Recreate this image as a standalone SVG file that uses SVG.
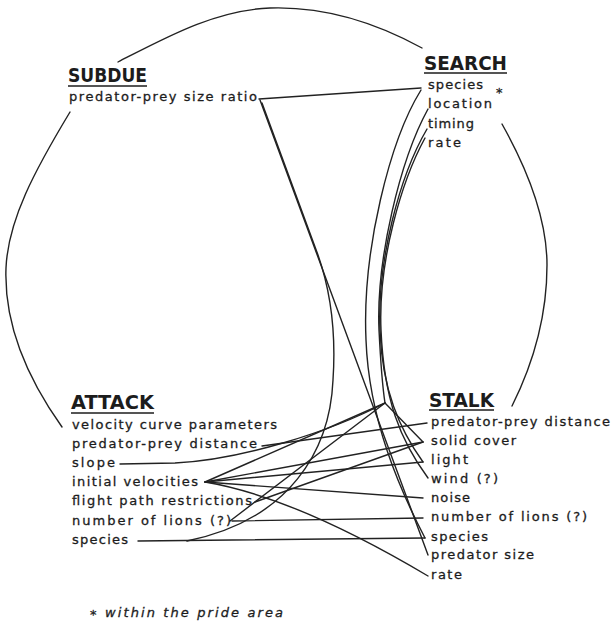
<svg xmlns="http://www.w3.org/2000/svg" width="611" height="622" viewBox="0 0 611 622">
<style>
.h{font-family:"DejaVu Sans","Liberation Sans",sans-serif;font-weight:bold;font-size:19px;fill:#1c1c1c}
.t{font-family:"DejaVu Sans","Liberation Sans",sans-serif;font-size:13px;fill:#1c1c1c;stroke:#1c1c1c;stroke-width:0.3}
.f{font-family:"DejaVu Sans","Liberation Sans",sans-serif;font-size:13px;font-style:italic;fill:#1c1c1c;stroke:#1c1c1c;stroke-width:0.3}
.u{stroke:#1c1c1c;stroke-width:1.6}
.c path{fill:none;stroke:#222;stroke-width:1.4;stroke-linecap:round;stroke-linejoin:round}
</style>
<rect width="611" height="622" fill="#fff"/>
<g id="connectors" class="c">
<path d="M118,62 C165,38 215,10 270,8 C330,6 380,25 422,48"/>
<path d="M70,112 C35,170 8,220 6,268 C4,320 25,375 62,427"/>
<path d="M502,124 C525,165 547,215 547,265 C547,315 535,360 512,406"/>
<path d="M259,99 L421,88"/>
<path d="M260,100 L428,555"/>
<path d="M262,103 L318,255 C331,292 336,335 333,380 C330,450 290,520 187,541"/>
<path d="M138,541 L425,538"/>
<path d="M232,521 L423,518"/>
<path d="M230,521 L385,403"/>
<path d="M262,446 L427,423"/>
<path d="M120,464 L175,463 C240,460 330,432 385,403"/>
<path d="M205,482 L385,403"/>
<path d="M205,482 L423,442"/>
<path d="M205,482 L423,462"/>
<path d="M205,482 L423,498"/>
<path d="M205,482 Q295,497 428,576"/>
<path d="M255,502 L423,442"/>
<path d="M385,403 L423,442"/>
<path d="M421,90 C390,140 362,250 366,340 C369,420 400,490 425,538"/>
<path d="M428,109 C400,160 376,260 379,330 C381,370 383,390 385,403"/>
<path d="M427,129 C400,175 377,260 380,330 C382,390 400,430 423,462"/>
<path d="M425,138 C402,180 378,260 381,330 C384,400 400,440 428,478"/>
</g>
<g id="subdue">
<text class="h" x="68" y="82" textLength="79" lengthAdjust="spacingAndGlyphs">SUBDUE</text>
<line class="u" x1="68" y1="86" x2="147" y2="86"/>
<text class="t" x="69" y="101" textLength="188" lengthAdjust="spacing">predator-prey size ratio</text>
</g>
<g id="search">
<text class="h" x="424" y="70" textLength="83" lengthAdjust="spacingAndGlyphs">SEARCH</text>
<line class="u" x1="424" y1="73" x2="507" y2="73"/>
<text class="t" x="428" y="89" textLength="55" lengthAdjust="spacing">species</text>
<text class="t" x="496" y="97" font-size="12">*</text>
<text class="t" x="428" y="108" textLength="64" lengthAdjust="spacing">location</text>
<text class="t" x="428" y="128" textLength="46" lengthAdjust="spacing">timing</text>
<text class="t" x="428" y="147" textLength="33" lengthAdjust="spacing">rate</text>
</g>
<g id="attack">
<text class="h" x="71" y="409" textLength="83" lengthAdjust="spacingAndGlyphs">ATTACK</text>
<line class="u" x1="71" y1="413" x2="154" y2="413"/>
<text class="t" x="72" y="429" textLength="205" lengthAdjust="spacing">velocity curve parameters</text>
<text class="t" x="72" y="448" textLength="185" lengthAdjust="spacing">predator-prey distance</text>
<text class="t" x="72" y="467" textLength="43" lengthAdjust="spacing">slope</text>
<text class="t" x="72" y="486" textLength="126" lengthAdjust="spacing">initial velocities</text>
<text class="t" x="72" y="505" textLength="180" lengthAdjust="spacing">flight path restrictions</text>
<text class="t" x="72" y="525" textLength="159" lengthAdjust="spacing">number of lions (?)</text>
<text class="t" x="72" y="544" textLength="56" lengthAdjust="spacing">species</text>
</g>
<g id="stalk">
<text class="h" x="429" y="407" textLength="65" lengthAdjust="spacingAndGlyphs">STALK</text>
<line class="u" x1="429" y1="410" x2="494" y2="410"/>
<text class="t" x="431" y="426" textLength="179" lengthAdjust="spacing">predator-prey distance</text>
<text class="t" x="431" y="445" textLength="85" lengthAdjust="spacing">solid cover</text>
<text class="t" x="431" y="464" textLength="37" lengthAdjust="spacing">light</text>
<text class="t" x="431" y="483" textLength="67" lengthAdjust="spacing">wind (?)</text>
<text class="t" x="431" y="502" textLength="39" lengthAdjust="spacing">noise</text>
<text class="t" x="431" y="521" textLength="156" lengthAdjust="spacing">number of lions (?)</text>
<text class="t" x="431" y="541" textLength="57" lengthAdjust="spacing">species</text>
<text class="t" x="431" y="559" textLength="103" lengthAdjust="spacing">predator size</text>
<text class="t" x="431" y="579" textLength="31" lengthAdjust="spacing">rate</text>
</g>
<g id="footnote">
<text class="f" x="90" y="619" font-size="12">*</text>
<text class="f" x="105" y="617" textLength="178" lengthAdjust="spacing">within the pride area</text>
</g>
</svg>
